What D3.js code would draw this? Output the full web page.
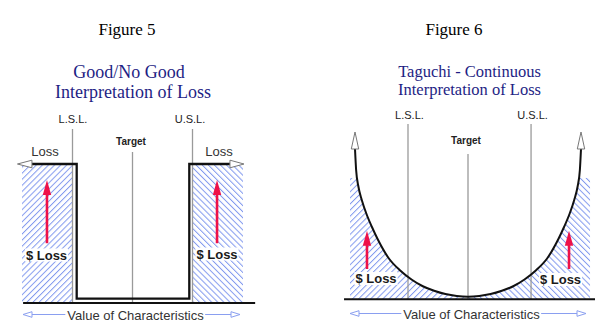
<!DOCTYPE html>
<html><head><meta charset="utf-8">
<script src="https://cdn.jsdelivr.net/npm/d3@7"></script>
<style>html,body{margin:0;padding:0;background:#fff;} svg{display:block;}</style>
</head><body><svg id="c" width="599" height="330"></svg>
<script>
// ---------------- data ----------------
const figureLabels = ["Figure 5", "Figure 6"];
const titleFig5 = ["Good/No Good", "Interpretation of Loss"];
const titleFig6 = ["Taguchi - Continuous", "Interpretation of Loss"];
const specLabels = ["L.S.L.", "Target", "U.S.L."];
const specFig5 = [-0.543, 0, 0.543];          // characteristic value of LSL, target, USL
const specFig6 = [-0.531, 0, 0.558];
const axisLabel = "Value of Characteristics";
const lossLabel = "Loss";
const dollarLabel = "$ Loss";
// Figure 5: step (good / no good) loss function
const stepX    = [-0.91, -0.505, -0.505, 0.514, 0.514, 0.882];
const stepLoss = [100,    100,    3.2,    3.2,   100,   100];
const zone5 = [[-1, -0.543], [0.543, 1]];       // hatched loss zones
const base5 = [-0.99, 1.11];                    // extent of value axis
// Figure 6: continuous (Taguchi) loss function
const curveX    = [-1, -0.99, -0.97, -0.94, -0.9, -0.85, -0.8, -0.7, -0.6, -0.5, -0.4, -0.3, -0.2, -0.1, 0,
                   0.1, 0.2, 0.3, 0.4, 0.5, 0.6, 0.7, 0.8, 0.85, 0.9, 0.94, 0.97, 0.99, 1];
const curveLoss = [100, 86, 75, 66, 57, 48, 40, 27, 19, 13, 8.5, 5.5, 3.3, 2, 1.5,
                   2, 3.3, 5.5, 8.5, 13, 19, 27, 40, 48, 57, 66, 75, 86, 100];
const zone6 = [[-1.044, 0], [0, 1.08]];
const zone6Top = 80.7;
const base6 = [-1.097, 1.124];
// red "$ Loss" arrows: x value and [tail, tip] loss
const redX5 = [-0.774, 0.765];
const redLoss5 = [43, 88.5];
const redX6 = [-0.894, 0.894];
const redLoss6 = [20, 45.5];

// ---------------- drawing ----------------
const svg = d3.select("#c");
svg.append("rect").attr("width", 599).attr("height", 330).attr("fill", "#fff");
const defs = svg.append("defs");
const HATCH = "#8299ee";
function hatch(id, angle) {
  const p = defs.append("pattern").attr("id", id).attr("width", 4.3).attr("height", 4.3)
    .attr("patternUnits", "userSpaceOnUse").attr("patternTransform", `rotate(${angle})`);
  p.append("rect").attr("x", 0).attr("y", 0).attr("width", 1).attr("height", 4.3).attr("fill", HATCH);
}
hatch("hf", 45);
hatch("hb", -45);

const SERIF = "'Liberation Serif','Times New Roman',serif";
const SANS = "'Liberation Sans',Arial,sans-serif";
const TITLE = "#1e1e84";
const GRAY = "#9a9a9a";
const RED = "#ee1148";
const BLUE = "#8a9ff0";

function text(x, y, s, o = {}) {
  return svg.append("text").attr("x", x).attr("y", y).text(s)
    .attr("text-anchor", o.anchor || "middle")
    .attr("font-family", o.family || SANS)
    .attr("font-size", o.size || 13)
    .attr("font-weight", o.weight || "normal")
    .attr("fill", o.fill || "#222");
}
function openHead(x, y, angle, len, hw, stroke) {
  svg.append("path").attr("d", `M0,0L${-len},${-hw}L${-len},${hw}Z`)
    .attr("transform", `translate(${x},${y}) rotate(${angle})`)
    .attr("fill", "#fff").attr("stroke", stroke).attr("stroke-width", 1);
}
function redArrow(x, yTail, yTip) {
  svg.append("line").attr("x1", x).attr("x2", x).attr("y1", yTail).attr("y2", yTip + 12)
    .attr("stroke", RED).attr("stroke-width", 2.6);
  svg.append("path").attr("d", `M${x},${yTip}L${x + 4.2},${yTip + 15}L${x - 4.2},${yTip + 15}Z`).attr("fill", RED);
}
function dollar(x, y) {
  const t = text(x, y, dollarLabel, { size: 13, weight: "bold", fill: "#1a1a1a" });
  const b = t.node().getBBox();
  svg.insert("rect", () => t.node()).attr("x", b.x - 1).attr("y", b.y + 1)
    .attr("width", b.width + 2).attr("height", b.height - 2).attr("fill", "#fff");
}
function valueAxis(cx, y, leftTip, rightTip) {
  const t = text(cx, y, axisLabel, { size: 13, fill: "#333" });
  const b = t.node().getBBox();
  const ay = y - 5;
  svg.append("line").attr("x1", leftTip + 8).attr("x2", b.x - 2).attr("y1", ay).attr("y2", ay).attr("stroke", BLUE).attr("stroke-width", 1);
  svg.append("line").attr("x1", b.x + b.width + 1).attr("x2", rightTip - 8).attr("y1", ay).attr("y2", ay).attr("stroke", BLUE).attr("stroke-width", 1);
  openHead(leftTip, ay, 180, 9, 2.8, BLUE);
  openHead(rightTip, ay, 0, 9, 2.8, BLUE);
}

// ===== Figure 5 =====
const x5 = d3.scaleLinear().domain([-1, 1]).range([22, 243]);
const y5 = d3.scaleLinear().domain([0, 100]).range([303, 164]);
text(127, 35, figureLabels[0], { family: SERIF, size: 17, fill: "#000" });
text(129, 78.3, titleFig5[0], { family: SERIF, size: 18, fill: TITLE });
text(133, 98.3, titleFig5[1], { family: SERIF, size: 18, fill: TITLE });

zone5.forEach((z, i) => svg.append("rect")
  .attr("x", x5(z[0])).attr("width", x5(z[1]) - x5(z[0]))
  .attr("y", y5(100)).attr("height", y5(0) - y5(100))
  .attr("fill", `url(#${i ? "hb" : "hf"})`));

const specTop5 = [129, 152, 129];
const specLab5 = [122.7, 145, 122.7];
specFig5.forEach((v, i) => {
  svg.append("line").attr("x1", x5(v)).attr("x2", x5(v)).attr("y1", specTop5[i]).attr("y2", y5(0))
    .attr("stroke", GRAY).attr("stroke-width", 1.3);
  text(x5(v) + (i === 1 ? -1.5 : i === 0 ? 0.5 : -2.5), specLab5[i], specLabels[i],
    { size: i === 1 ? 10 : 11, weight: i === 1 ? "bold" : "normal", fill: "#222" });
});

svg.append("path")
  .attr("d", d3.line().x((d, i) => x5(stepX[i])).y((d, i) => y5(stepLoss[i]))(stepX))
  .attr("fill", "none").attr("stroke", "#111").attr("stroke-width", 2.3).attr("stroke-linejoin", "miter");
openHead(x5(stepX[0]) - 14.5, y5(stepLoss[0]), 180, 14.5, 3.8, "#777");
openHead(x5(stepX[5]) + 14, y5(stepLoss[5]), 0, 14, 3.8, "#777");
text(45, 155.7, lossLabel, { size: 13, fill: "#333" });
text(219, 155.7, lossLabel, { size: 13, fill: "#333" });

svg.append("line").attr("x1", x5(base5[0])).attr("x2", x5(base5[1])).attr("y1", y5(0)).attr("y2", y5(0))
  .attr("stroke", "#111").attr("stroke-width", 2);

redX5.forEach(v => redArrow(x5(v), y5(redLoss5[0]), y5(redLoss5[1])));
dollar(46.5, 259.5);
dollar(217, 258.5);
valueAxis(135.5, 319.5, 23, 240);

// ===== Figure 6 =====
const x6 = d3.scaleLinear().domain([-1, 1]).range([355, 581]);
const y6 = d3.scaleLinear().domain([0, 100]).range([299, 149]);
text(454, 35, figureLabels[1], { family: SERIF, size: 17, fill: "#000" });
text(469.5, 76.7, titleFig6[0], { family: SERIF, size: 16.5, fill: TITLE });
text(469.5, 95, titleFig6[1], { family: SERIF, size: 16.5, fill: TITLE });

zone6.forEach((z, i) => svg.append("rect")
  .attr("x", x6(z[0])).attr("width", x6(z[1]) - x6(z[0]))
  .attr("y", y6(zone6Top)).attr("height", y6(0) - y6(zone6Top))
  .attr("fill", `url(#${i ? "hb" : "hf"})`));

const curveData = curveX.map((v, i) => [v, curveLoss[i]]);
// clear the inside of the loss curve (no loss region above the curve)
svg.append("path")
  .attr("d", d3.area().x(d => x6(d[0])).y0(y6(100)).y1(d => y6(d[1])).curve(d3.curveMonotoneX)(curveData))
  .attr("fill", "#fff");

const specTop6 = [124, 154, 124];
const specLab6 = [119, 144, 119];
specFig6.forEach((v, i) => {
  svg.append("line").attr("x1", x6(v)).attr("x2", x6(v)).attr("y1", specTop6[i]).attr("y2", y6(0))
    .attr("stroke", GRAY).attr("stroke-width", 1.3);
  text(x6(v) + (i === 1 ? -2 : 1.5), specLab6[i], specLabels[i],
    { size: i === 1 ? 10 : 11, weight: i === 1 ? "bold" : "normal", fill: "#222" });
});

svg.append("path")
  .attr("d", d3.line().x(d => x6(d[0])).y(d => y6(d[1])).curve(d3.curveMonotoneX)(curveData))
  .attr("fill", "none").attr("stroke", "#111").attr("stroke-width", 2);
openHead(x6(curveX[0]), y6(100) - 17, -90, 17, 3.7, "#777");
openHead(x6(curveX[curveX.length - 1]), y6(100) - 17, -90, 17, 3.7, "#777");

svg.append("line").attr("x1", x6(base6[0])).attr("x2", x6(base6[1])).attr("y1", y6(0) + 0.3).attr("y2", y6(0) + 0.3)
  .attr("stroke", "#111").attr("stroke-width", 2);

redX6.forEach(v => redArrow(x6(v), y6(redLoss6[0]), y6(redLoss6[1])));
dollar(376, 283);
dollar(560.5, 284);
valueAxis(471.5, 318.5, 350, 586);
</script>
</body></html>
